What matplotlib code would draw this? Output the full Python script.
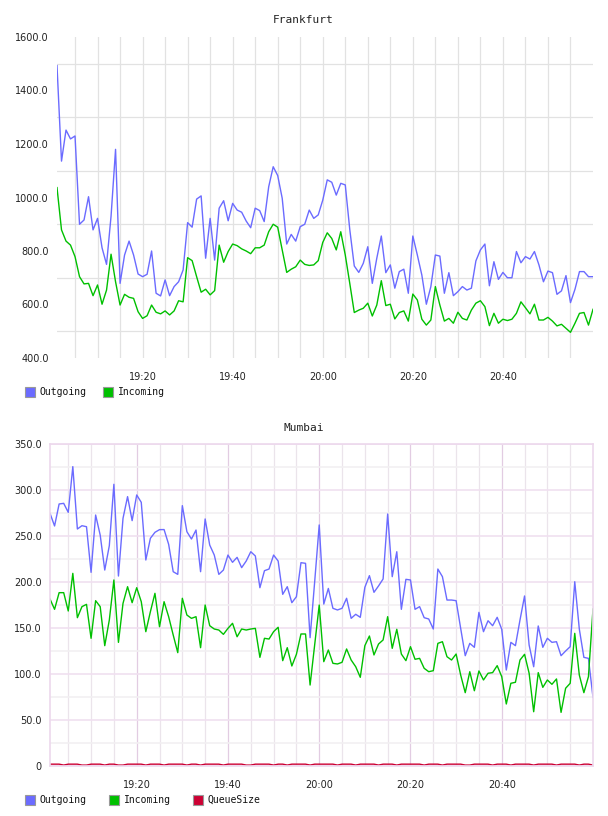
import matplotlib
matplotlib.use("Agg")
import matplotlib.pyplot as plt
import matplotlib.dates as mdates
from matplotlib.patches import Rectangle
from matplotlib.ticker import FixedLocator
import pandas as pd

start_time = "2024-01-01 19:01"
n_points = 120
x_label_times = ["2024-01-01 19:20", "2024-01-01 19:40", "2024-01-01 20:00",
                 "2024-01-01 20:20", "2024-01-01 20:40"]

fra_outgoing = [1493,1136,1252,1219,1230,900,916,1003,879,922,
                812,750,930,1180,679,785,837,785,714,704,
                713,800,642,632,692,633,667,685,729,906,
                889,994,1006,773,922,766,960,988,913,978,
                953,945,912,887,960,951,910,1040,1115,1082,
                997,826,862,837,891,900,953,922,935,990,
                1066,1057,1009,1053,1047,880,744,720,754,816,
                679,773,856,719,748,661,723,732,642,856,
                785,710,601,667,785,781,642,719,633,648,
                667,654,661,763,804,826,670,760,694,720,
                700,700,798,756,779,770,798,748,685,725,
                719,638,651,708,607,657,723,723,704,704]
fra_incoming = [1037,879,837,822,779,704,677,679,633,673,
                601,654,788,685,598,638,627,623,573,548,
                558,598,571,565,576,561,576,614,610,775,
                764,704,646,657,636,652,822,758,798,826,
                820,808,800,790,812,812,822,872,900,889,
                804,720,732,741,766,750,746,748,764,832,
                868,847,804,872,785,679,570,579,586,605,
                557,598,689,596,601,546,570,576,538,639,
                617,545,523,542,667,598,538,548,530,571,
                548,542,579,605,614,592,521,567,530,545,
                540,545,567,610,588,565,601,542,542,552,
                538,520,526,511,496,530,567,570,523,582]

mum_outgoing = [274.7,260.9,284.8,285.5,275.7,325.4,257.6,261.2,260.1,210.5,
                272.8,251,213,239.5,306.2,206.5,269.2,292.8,266.7,294.6,
                286.6,223.9,247.5,254,256.9,257,241,211.2,208.3,283,
                254.7,246.7,256.5,211.2,268.5,240.2,229.3,208.3,213,229.3,
                221.4,226.8,215.6,222.8,232.9,228.3,193.8,212.3,214.1,229.3,
                222.8,186.6,194.9,177.5,184,221,220.3,139.5,200,262,
                176,193,171.4,169.6,171.4,182.3,160.5,164.9,161.6,194.2,
                206.9,188.8,195.7,203.3,273.9,205.8,232.9,170.3,202.9,202.2,
                170.3,173.2,161.2,159.8,148.9,214.1,205.8,180.4,180.4,179.7,
                149.6,119.9,133.3,129,167,146,157.9,152.5,161.6,148.6,
                104.3,134.4,130.8,158.7,184.8,131.5,107.9,152.2,129,138.8,
                134.4,135.1,119.9,125,129.7,200.3,148.9,118.1,117,74.6]
mum_incoming = [181.5,170.3,188.4,188.4,168.5,209.4,161.2,173.2,175.7,138.8,
                179.7,173.2,130.8,158.7,202.2,134.4,176.8,194.9,177.5,193.8,
                178.6,146,167.7,187.7,151.4,178.6,162.3,142.4,123.2,182.3,
                164.1,160.5,162.3,128.6,175,152.5,148.9,147.8,143.1,149.6,
                155.1,140.5,148.9,147.8,148.9,149.6,118.1,138.8,138,146,
                150.8,114.5,128.6,108.7,121.4,143.5,143.5,88,131.5,175,
                113.4,126.1,111.6,110.9,112.7,127.2,115.2,107.9,96.4,130.8,
                141.3,120.7,132.6,137,162.3,127.9,148.6,121.7,114.5,129.7,
                116,117,106.2,102.5,103.6,133.3,135.1,118.8,115.2,121.7,
                98.9,79.7,102.5,81.8,103.3,93.5,100.8,101.5,109.1,97.1,
                67.4,89.9,91,115.2,121.4,100.8,59,101.5,85.5,93.5,
                88.8,94.6,58.3,84.5,89.9,144.2,98.9,79.7,97.1,170.7]
mum_queue = [2,2,2,1,2,2,2,1,1,2,
             2,2,1,2,2,1,1,2,2,2,
             2,1,2,2,2,1,2,2,2,2,
             1,2,2,1,2,2,2,2,1,2,
             2,2,2,1,1,2,2,2,2,1,
             2,2,1,2,2,2,2,1,2,2,
             2,2,2,1,2,2,2,1,2,2,
             2,2,1,2,2,2,1,2,2,2,
             2,2,1,2,2,2,1,2,2,2,
             2,1,1,2,2,2,2,1,2,2,
             2,1,2,2,2,2,1,2,2,2,
             2,1,2,2,2,2,1,2,2,1]

fra_yticks = [400, 600, 800, 1000, 1200, 1400, 1600]
fra_ygrid = [500, 700, 900, 1100, 1300, 1500]
mum_yticks = [0, 50, 100, 150, 200, 250, 300, 350]
mum_ylabels = ["0", "50.0", "100.0", "150.0", "200.0", "250.0", "300.0", "350.0"]
mum_yminor = [25, 75, 125, 175, 225, 275, 325]

series_colors = {"Outgoing": "#6b6bff", "Incoming": "#00c000", "QueueSize": "#cc0033"}

times = pd.date_range(start_time, periods=n_points, freq="1min").to_pydatetime()
xmajor = mdates.date2num(pd.to_datetime(x_label_times).to_pydatetime())

fig = plt.figure(figsize=(6.08, 8.16), dpi=100)
W, H = 608, 816

def ax_rect(l, t, r, b):
    return [l / W, 1 - b / H, (r - l) / W, (b - t) / H]

tick_font = dict(family="DejaVu Sans", size=7)
label_color = "#222222"

def style_xticks(ax):
    ax.xaxis.set_major_locator(FixedLocator(xmajor))
    ax.xaxis.set_major_formatter(mdates.DateFormatter("%H:%M"))
    ax.xaxis.set_minor_locator(mdates.MinuteLocator(byminute=[5, 10, 15, 25, 30, 35, 45, 50, 55]))
    for lab in ax.get_xticklabels():
        lab.set_fontfamily("DejaVu Sans"); lab.set_fontsize(7); lab.set_color(label_color)

# ---- Frankfurt ----
ax1 = fig.add_axes(ax_rect(57, 37, 593, 358))
ax1.plot(times, fra_outgoing, color=series_colors["Outgoing"], lw=1.0)
ax1.plot(times, fra_incoming, color=series_colors["Incoming"], lw=1.0)
ax1.set_xlim(times[0], times[-1])
ax1.set_ylim(400, 1600)
ax1.set_yticks(fra_yticks)
ax1.set_yticklabels([f"{v:.1f}" for v in fra_yticks], **tick_font, color=label_color)
ax1.yaxis.set_minor_locator(FixedLocator(fra_ygrid))
style_xticks(ax1)
ax1.grid(False)
ax1.grid(True, which="minor", axis="both", color="#e2e2e2", lw=0.9)
ax1.grid(True, which="major", axis="x", color="#e2e2e2", lw=0.9)
ax1.tick_params(which="both", length=0, pad=6)
ax1.tick_params(axis="x", pad=10)
for s in ax1.spines.values():
    s.set_visible(False)
ax1.set_axisbelow(True)

# ---- Mumbai ----
ax2 = fig.add_axes(ax_rect(50, 444, 593, 766))
ax2.plot(times, mum_outgoing, color=series_colors["Outgoing"], lw=1.0)
ax2.plot(times, mum_incoming, color=series_colors["Incoming"], lw=1.0)
ax2.plot(times, mum_queue, color=series_colors["QueueSize"], lw=1.0)
ax2.set_xlim(times[0], times[-1])
ax2.set_ylim(0, 350)
ax2.set_yticks(mum_yticks)
ax2.set_yticklabels(mum_ylabels, **tick_font, color=label_color)
ax2.yaxis.set_minor_locator(FixedLocator(mum_yminor))
style_xticks(ax2)
ax2.grid(True, which="major", axis="y", color="#f0e0f0", lw=1.2)
ax2.grid(True, which="minor", axis="y", color="#f2f0f2", lw=1.2)
ax2.grid(True, which="major", axis="x", color="#e2cce2", lw=0.9)
ax2.grid(True, which="minor", axis="x", color="#ebe4eb", lw=0.9)
ax2.tick_params(which="both", length=0, pad=6)
ax2.tick_params(axis="x", pad=10)
for name, s in ax2.spines.items():
    s.set_color("#ecd8ec")
    s.set_linewidth(1.2)
ax2.set_axisbelow(True)

# ---- Titles ----
title_font = dict(family="DejaVu Sans Mono", size=8, color="#222222", ha="center", va="center")
fig.text(303 / W, 1 - 20 / H, "Frankfurt", **title_font)
fig.text(304 / W, 1 - 428 / H, "Mumbai", **title_font)

# ---- Legends ----
def legend_item(x_box, x_text, y, name):
    fig.patches.append(Rectangle((x_box / W, 1 - (y + 5) / H), 10 / W, 10 / H,
                                 transform=fig.transFigure, facecolor=series_colors[name],
                                 edgecolor="#999999", lw=0.8))
    fig.text(x_text / W, 1 - y / H, name, family="DejaVu Sans Mono", size=7,
             color="#111111", ha="left", va="center")

legend_item(25, 39, 392, "Outgoing")
legend_item(103, 118, 392, "Incoming")
legend_item(25, 39, 800, "Outgoing")
legend_item(109, 124, 800, "Incoming")
legend_item(193, 207, 800, "QueueSize")

fig.savefig("out.png", dpi=100)
